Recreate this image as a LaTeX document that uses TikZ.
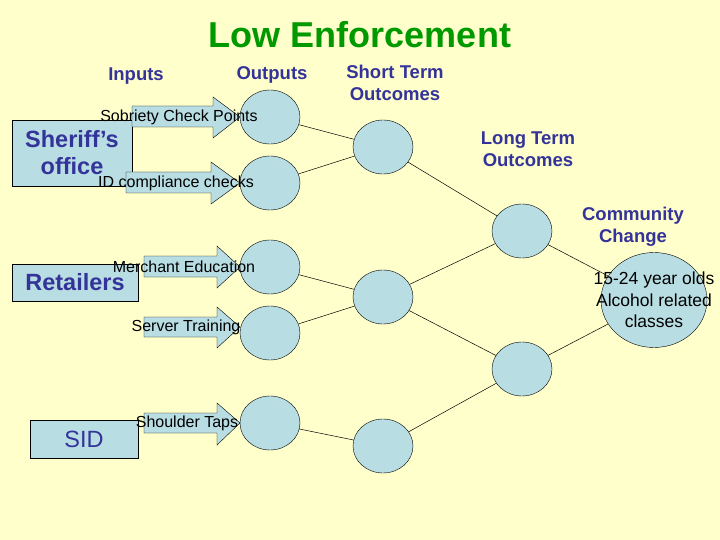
\documentclass[tikz,border=0pt]{standalone}
\usepackage{fontspec}
\setmainfont{Liberation Sans}
\begin{document}
\begin{tikzpicture}[x=1pt,y=-1pt,
  circ/.style={draw,fill=cfill,ellipse,minimum width=60pt,minimum height=54pt,inner sep=0pt},
  box/.style={draw,fill=cfill,inner sep=0pt,text=hdr,font=\fontsize{23.5}{27}\selectfont\bfseries,align=center},
  hd/.style={text=hdr,font=\fontsize{18.5}{21.5}\selectfont\bfseries,align=center},
  lbl/.style={font=\fontsize{16}{18}\selectfont},
  arr/.style={draw,fill=cfill},
  ln/.style={draw,line width=0.5pt}]
\usetikzlibrary{shapes.geometric}
\definecolor{cfill}{HTML}{B8DDE3}
\definecolor{hdr}{HTML}{333399}
\definecolor{bg}{HTML}{FFFFCC}
\fill[bg] (0,0) rectangle (720,540);
\useasboundingbox (0,0) rectangle (720,540);
\node[text={rgb,255:red,0;green,153;blue,0},font=\fontsize{36}{40}\selectfont\bfseries] (title) at (360,35) {Low Enforcement};
\node[hd] (inputs) at (136,76) {Inputs};
\node[hd] (outputs) at (272,75) {Outputs};
\node[hd] (sto) at (395,83) {Short Term\\Outcomes};
\node[hd] (lto) at (528,149) {Long Term\\Outcomes};
\node[hd] (cc) at (633,227) {Community\\Change};
% boxes
\node[box,minimum width=120pt,minimum height=66pt] (sher) at (72,153) {Sheriff\symbol{39}s\\office};
\node[box,minimum width=126pt,minimum height=37pt] (ret) at (75,282.5) {Retailers};
\node[box,font=\fontsize{23.5}{27}\selectfont,minimum width=108pt,minimum height=38pt] (sid) at (84,439) {SID};
% arrows
\path[arr] (132,106) -- (213,106) -- (213,97) -- (240,117) -- (213,138) -- (213,127) -- (132,127) -- cycle;
\path[arr] (126,172) -- (211,172) -- (211,162) -- (240,183) -- (211,204) -- (211,193) -- (126,193) -- cycle;
\path[arr] (144,256) -- (217,256) -- (217,246) -- (240,267) -- (217,288) -- (217,277) -- (144,277) -- cycle;
\path[arr] (144,317) -- (217,317) -- (217,307) -- (240,327) -- (217,348) -- (217,337) -- (144,337) -- cycle;
\path[arr] (144,413) -- (217,413) -- (217,403) -- (240,423) -- (217,445) -- (217,433) -- (144,433) -- cycle;
% circles
\node[circ] (o1) at (270,117) {};
\node[circ] (o2) at (270,183) {};
\node[circ] (o3) at (270,267) {};
\node[circ] (o4) at (270,333) {};
\node[circ] (o5) at (270,423) {};
\node[circ] (s1) at (383,147) {};
\node[circ] (s2) at (383,297) {};
\node[circ] (s3) at (383,446) {};
\node[circ] (l1) at (522,231) {};
\node[circ] (l2) at (522,369) {};
\node[circ,minimum width=106pt,minimum height=95pt] (comm) at (654,300) {};
\node[lbl,font=\fontsize{17.5}{21.5}\selectfont,align=center] (ct) at (654,300) {15-24 year olds\\Alcohol related\\classes};
% labels
\node[lbl] (t1) at (179,117) {Sobriety Check Points};
\node[lbl] (t2) at (176,183) {ID compliance checks};
\node[lbl] (t3) at (184,267) {Merchant Education};
\node[lbl] (t4) at (186,327) {Server Training};
\node[lbl] (t5) at (187,423) {Shoulder Taps};
% connectors
\draw[ln] (o1) -- (s1); \draw[ln] (o2) -- (s1);
\draw[ln] (o3) -- (s2); \draw[ln] (o4) -- (s2);
\draw[ln] (o5) -- (s3);
\draw[ln] (s1) -- (l1); \draw[ln] (s2) -- (l1);
\draw[ln] (s2) -- (l2); \draw[ln] (s3) -- (l2);
\draw[ln] (l1) -- (comm); \draw[ln] (l2) -- (comm);
\end{tikzpicture}
\end{document}
